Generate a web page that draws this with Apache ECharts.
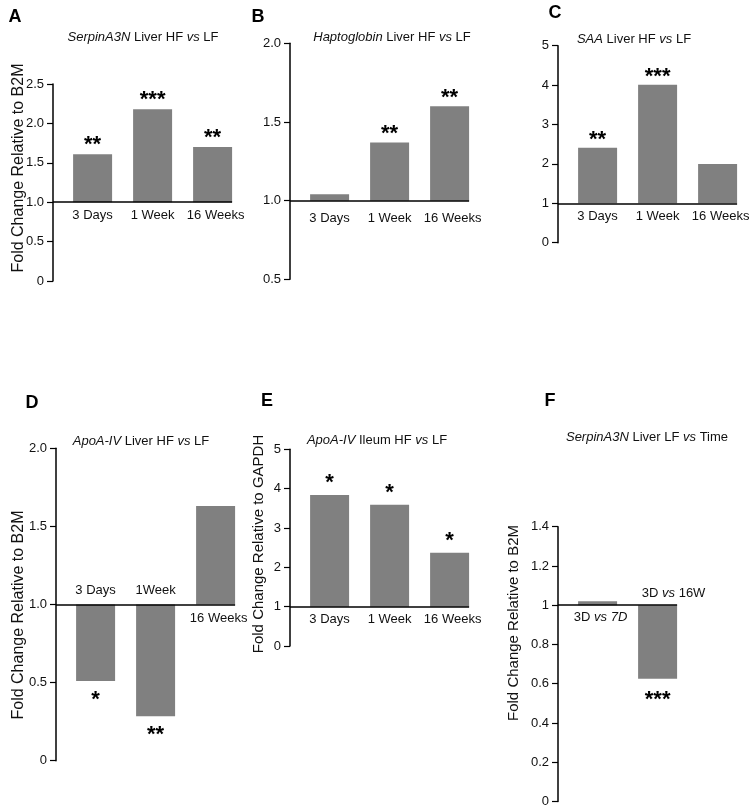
<!DOCTYPE html>
<html>
<head>
<meta charset="utf-8">
<script src="https://cdn.jsdelivr.net/npm/echarts@6/dist/echarts.min.js"></script>
<style>
html,body{margin:0;padding:0;background:#fff;}
#chart{width:751px;height:808px;}
</style>
</head>
<body>
<div id="chart"></div>
<script>
// ---------- DATA ----------
const catsA = ['3 Days', '1 Week', '16 Weeks'];
const valsA = [1.61, 2.18, 1.70];
const starsA = ['**', '***', '**'];
const axisA = [0, 2.5, 0.5];

const catsB = ['3 Days', '1 Week', '16 Weeks'];
const valsB = [1.04, 1.37, 1.60];
const starsB = ['', '**', '**'];
const axisB = [0.5, 2.0, 0.5];

const catsC = ['3 Days', '1 Week', '16 Weeks'];
const valsC = [2.41, 4.01, 2.0];
const starsC = ['**', '***', ''];
const axisC = [0, 5, 1];

const catsD = ['3 Days', '1Week', '16 Weeks'];
const valsD = [0.51, 0.285, 1.63];
const starsD = ['*', '**', ''];
const axisD = [0, 2.0, 0.5];

const catsE = ['3 Days', '1 Week', '16 Weeks'];
const valsE = [3.84, 3.59, 2.37];
const starsE = ['*', '*', '*'];
const axisE = [0, 5, 1];

const catsF = ['3D {i|vs 7D}', '3D {i|vs} 16W'];
const valsF = [1.02, 0.625];
const starsF = ['', '***'];
const axisF = [0, 1.4, 0.2];

const titles = [
  '{i|SerpinA3N} Liver HF {i|vs} LF',
  '{i|Haptoglobin} Liver HF {i|vs} LF',
  '{i|SAA} Liver HF {i|vs} LF',
  '{i|ApoA-IV} Liver HF {i|vs} LF',
  '{i|ApoA-IV} Ileum HF {i|vs} LF',
  '{i|SerpinA3N} Liver LF {i|vs} Time'
];
const letters = ['A', 'B', 'C', 'D', 'E', 'F'];
const yNames = ['Fold Change Relative to B2M', null, null,
  'Fold Change Relative to B2M', 'Fold Change Relative to GAPDH', 'Fold Change Relative to B2M'];

// ---------- LAYOUT (styles / positions) ----------
const FONT = 'Liberation Sans, Arial, sans-serif';
const BAR = '#808080';
const PITCH = 60;
const layout = [
  {left: 53,  top: 84,    height: 197,   letter: [15, 17],  title: [143, 37],  yname: [19, 168],  yfs: 16, catOff: 13, starOff: 9, dx: [0, 0, 3]},
  {left: 290, top: 43.3,  height: 236,   letter: [258, 17], title: [392, 37],  yname: null,       yfs: 16, catOff: 18, starOff: 8, dx: [0, 0, 3]},
  {left: 558, top: 45.7,  height: 197,   letter: [555, 13], title: [634, 39],  yname: null,       yfs: 16, catOff: 13, starOff: 8, dx: [0, 0, 3]},
  {left: 56,  top: 448.3, height: 312.4, letter: [32, 403], title: [141, 441], yname: [19, 615],  yfs: 16, catOff: 14, starOff: 11, dx: [0, 0, 3]},
  {left: 290, top: 449.3, height: 196.7, letter: [267, 401],title: [377, 440], yname: [259, 544], yfs: 15, catOff: 13, starOff: 12, dx: [0, 0, 3]},
  {left: 558, top: 526.7, height: 275,   letter: [550, 401],title: [647, 437], yname: [514, 623], yfs: 15, catOff: 12, starOff: 13, dx: [3, 16]}
];

const panels = [
  {cats: catsA, vals: valsA, stars: starsA, axis: axisA},
  {cats: catsB, vals: valsB, stars: starsB, axis: axisB},
  {cats: catsC, vals: valsC, stars: starsC, axis: axisC},
  {cats: catsD, vals: valsD, stars: starsD, axis: axisD},
  {cats: catsE, vals: valsE, stars: starsE, axis: axisE},
  {cats: catsF, vals: valsF, stars: starsF, axis: axisF}
];

const grid = [], xAxis = [], yAxis = [], series = [], graphic = [];

panels.forEach(function (p, k) {
  const L = layout[k];
  const n = p.cats.length;
  grid.push({left: L.left, top: L.top, width: (n - 1 + 0.985) * PITCH, height: L.height, containLabel: false});
  xAxis.push({type: 'value', gridIndex: k, min: -0.66, max: n - 1 + 0.325, show: false});
  const ax = p.axis;
  yAxis.push({
    type: 'value', gridIndex: k, min: ax[0], max: ax[1], interval: ax[2], position: 'left',
    axisLine: {show: true, onZero: false, lineStyle: {color: '#000', width: 1.5}},
    axisTick: {show: true, length: 6, lineStyle: {color: '#000', width: 1.2}},
    splitLine: {show: false},
    axisLabel: {
      margin: 9, color: '#111', fontSize: 13, fontFamily: FONT,
      formatter: function (v) {
        const r = Math.round(v * 10) / 10;
        if (r === 0) return '0';
        if (k === 5) return String(r);
        if (ax[2] >= 1) return String(r);
        return r.toFixed(1);
      }
    }
  });
  const data = p.vals.map(function (v, i) { return [i, v]; });
  series.push({
    type: 'custom', xAxisIndex: k, yAxisIndex: k, silent: true, animation: false,
    data: data,
    renderItem: function (params, api) {
      const i = api.value(0), v = api.value(1);
      const base = api.coord([i, 1]);
      const end = api.coord([i, v]);
      const w = api.size([1, 0])[0] * 0.65;
      const y0 = Math.min(base[1], end[1]);
      const h = Math.max(Math.abs(base[1] - end[1]), 1);
      const up = v >= 1;
      const children = [
        {type: 'rect', shape: {x: base[0] - w / 2, y: y0, width: w, height: h}, style: {fill: BAR}},
        {type: 'text', style: {
          text: p.cats[i], x: base[0] + (L.dx[i] || 0), y: base[1] + (up ? L.catOff : -L.catOff),
          align: 'center', verticalAlign: 'middle', fill: '#111', fontSize: 13, fontFamily: FONT,
          rich: {i: {fontStyle: 'italic', fontSize: 13, fontFamily: FONT, fill: '#111'}}
        }}
      ];
      if (p.stars[i]) {
        children.push({type: 'text', style: {
          text: p.stars[i], x: end[0], y: end[1] + (up ? -L.starOff : L.starOff + 8),
          align: 'center', verticalAlign: 'middle', fill: '#000', fontSize: 22, fontWeight: 'bold', fontFamily: FONT
        }});
      }
      return {type: 'group', children: children};
    },
    markLine: {
      silent: true, symbol: ['none', 'none'], animation: false,
      label: {show: false},
      lineStyle: {color: '#000', width: 1.5, type: 'solid'},
      data: [{yAxis: 1}]
    }
  });
  graphic.push({
    type: 'text', x: L.letter[0], y: L.letter[1],
    style: {text: letters[k], align: 'center', verticalAlign: 'middle', fontSize: 18, fontWeight: 'bold', fontFamily: FONT, fill: '#000'}
  });
  graphic.push({
    type: 'text', x: L.title[0], y: L.title[1],
    style: {
      text: titles[k], align: 'center', verticalAlign: 'middle', fontSize: 13, fontFamily: FONT, fill: '#111',
      rich: {i: {fontStyle: 'italic', fontSize: 13, fontFamily: FONT, fill: '#111'}}
    }
  });
  if (yNames[k] && L.yname) {
    graphic.push({
      type: 'text', x: L.yname[0], y: L.yname[1], rotation: Math.PI / 2,
      style: {text: yNames[k], align: 'center', verticalAlign: 'middle', fontSize: L.yfs, fontFamily: FONT, fill: '#111'}
    });
  }
});

const chart = echarts.init(document.getElementById('chart'), null, {renderer: 'canvas'});
chart.setOption({
  animation: false,
  backgroundColor: '#fff',
  grid: grid, xAxis: xAxis, yAxis: yAxis, series: series, graphic: graphic
});
</script>
</body>
</html>
